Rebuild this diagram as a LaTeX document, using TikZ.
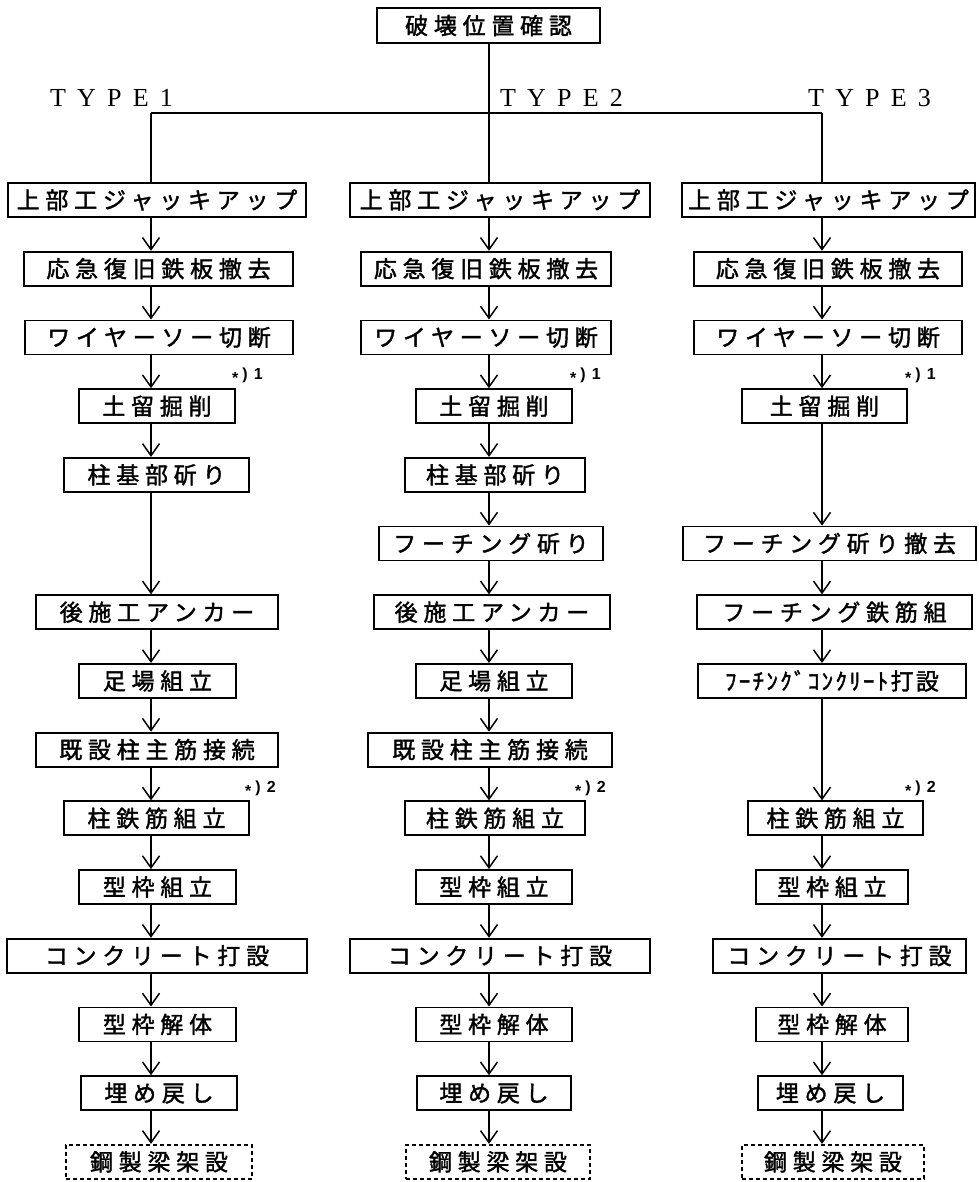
\documentclass[tikz,border=0pt]{standalone}
\usepackage{fontspec}
\usetikzlibrary{arrows.meta,calc}
\newfontfamily\jpf[LetterSpace=25,FakeBold=1.6]{Noto Sans CJK JP}
\newfontfamily\jph[LetterSpace=10,FakeBold=1.6]{Noto Sans CJK JP}
\newfontfamily\typef[LetterSpace=43]{Liberation Serif}
\newfontfamily\notef{Liberation Sans}
\newcommand\notemark[1]{\raisebox{-4pt}{*}\kern4pt)\kern6pt#1}
\begin{document}
\begin{tikzpicture}[x=1pt,y=-1pt,
  box/.style={draw, line width=1.8pt, minimum height=34pt, inner sep=0pt,
    font=\jpf\fontsize{23}{23}\selectfont},
  hbox/.style={box, font=\jph\fontsize{23}{23}\selectfont},
  dbox/.style={box, dash pattern=on 4pt off 3pt},
  flow/.style={line width=1.5pt, -{Straight Barb[length=12pt,width=17pt,line width=1.5pt]}},
  link/.style={line width=1.5pt},
  typelbl/.style={font=\typef\fontsize{26}{26}\selectfont, anchor=base west, inner sep=0pt},
  note/.style={font=\notef\bfseries\fontsize{16}{16}\selectfont, anchor=south west, inner sep=0pt}]
\useasboundingbox (0,0) rectangle (978,1182);

% column axes
\coordinate (c1) at (151,0);
\coordinate (c2) at (489,0);
\coordinate (c3) at (822,0);
\coordinate (h1) at (151,113);
\coordinate (h3) at (822,113);

% top
\node[box, minimum width=223pt, minimum height=35pt] (top) at (488.5,25.5) {破壊位置確認};

% type labels
\node[typelbl] (t1) at (50,107) {TYPE1};
\node[typelbl] (t2) at (500,107) {TYPE2};
\node[typelbl] (t3) at (808,107) {TYPE3};

% column 1
\node[box, minimum width=298pt] (a0) at (157,200) {上部工ジャッキアップ};
\node[box, minimum width=269pt] (a1) at (158.5,268.7) {応急復旧鉄板撤去};
\node[box, minimum width=268pt] (a2) at (159,337.4) {ワイヤーソー切断};
\node[box, minimum width=156pt] (a3) at (157,406.1) {土留掘削};
\node[box, minimum width=185pt] (a4) at (156.5,474.8) {柱基部斫り};
\node[box, minimum width=242pt] (a6) at (157,612.2) {後施工アンカー};
\node[box, minimum width=157pt] (a7) at (157.5,680.9) {足場組立};
\node[box, minimum width=242pt] (a8) at (157,749.6) {既設柱主筋接続};
\node[box, minimum width=185pt] (a9) at (156.5,818.3) {柱鉄筋組立};
\node[box, minimum width=157pt] (a10) at (157.5,887) {型枠組立};
\node[box, minimum width=300pt] (a11) at (157,955.7) {コンクリート打設};
\node[box, minimum width=157pt] (a12) at (157.5,1024.4) {型枠解体};
\node[box, minimum width=156pt] (a13) at (159,1093.1) {埋め戻し};
\node[dbox, minimum width=186pt] (a14) at (159,1161.8) {鋼製梁架設};

% column 2
\node[box, minimum width=300pt] (b0) at (500,200) {上部工ジャッキアップ};
\node[box, minimum width=250pt] (b1) at (486,268.7) {応急復旧鉄板撤去};
\node[box, minimum width=250pt] (b2) at (486,337.4) {ワイヤーソー切断};
\node[box, minimum width=156pt] (b3) at (494,406.1) {土留掘削};
\node[box, minimum width=180pt] (b4) at (495,474.8) {柱基部斫り};
\node[box, minimum width=224pt] (b5) at (491,543.5) {フーチング斫り};
\node[box, minimum width=236pt] (b6) at (492,612.2) {後施工アンカー};
\node[box, minimum width=156pt] (b7) at (494,680.9) {足場組立};
\node[box, minimum width=244pt] (b8) at (490,749.6) {既設柱主筋接続};
\node[box, minimum width=180pt] (b9) at (495,818.3) {柱鉄筋組立};
\node[box, minimum width=156pt] (b10) at (494,887) {型枠組立};
\node[box, minimum width=300pt] (b11) at (500,955.7) {コンクリート打設};
\node[box, minimum width=156pt] (b12) at (494,1024.4) {型枠解体};
\node[box, minimum width=154pt] (b13) at (494,1093.1) {埋め戻し};
\node[dbox, minimum width=184pt] (b14) at (498,1161.8) {鋼製梁架設};

% column 3
\node[box, minimum width=293pt] (d0) at (828.5,200) {上部工ジャッキアップ};
\node[box, minimum width=268pt] (d1) at (828,268.7) {応急復旧鉄板撤去};
\node[box, minimum width=268pt] (d2) at (828,337.4) {ワイヤーソー切断};
\node[box, minimum width=165pt] (d3) at (824.5,406.1) {土留掘削};
\node[box, minimum width=293pt] (d5) at (829.5,543.5) {フーチング斫り撤去};
\node[box, minimum width=275pt] (d6) at (834.5,612.2) {フーチング鉄筋組};
\node[hbox, minimum width=268pt] (d7) at (832,680.9) {ﾌｰﾁﾝｸﾞｺﾝｸﾘｰﾄ打設};
\node[box, minimum width=175pt] (d9) at (835.5,818.3) {柱鉄筋組立};
\node[box, minimum width=152pt] (d10) at (832,887) {型枠組立};
\node[box, minimum width=253pt] (d11) at (839.5,955.7) {コンクリート打設};
\node[box, minimum width=152pt] (d12) at (832,1024.4) {型枠解体};
\node[box, minimum width=145pt] (d13) at (830.5,1093.1) {埋め戻し};
\node[dbox, minimum width=182pt] (d14) at (833,1161.8) {鋼製梁架設};

% notes
\node[note] (n11) at (232,384) {\notemark{1}};
\node[note] (n12) at (570,384) {\notemark{1}};
\node[note] (n13) at (905,384) {\notemark{1}};
\node[note] (n21) at (245,797) {\notemark{2}};
\node[note] (n22) at (575,797) {\notemark{2}};
\node[note] (n23) at (905,797) {\notemark{2}};

% top branching
\draw[link] (top.south -| c2) -- (b0.north -| c2);
\draw[link] (h1) -- (h3);
\draw[link] (h1) -- (a0.north -| h1);
\draw[link] (h3) -- (d0.north -| h3);

% column 1 arrows
\foreach \p/\q in {a0/a1,a1/a2,a2/a3,a3/a4,a4/a6,a6/a7,a7/a8,a8/a9,a9/a10,a10/a11,a11/a12,a12/a13,a13/a14}
  \draw[flow] (\p.south -| c1) -- (\q.north -| c1);
% column 2 arrows
\foreach \p/\q in {b0/b1,b1/b2,b2/b3,b3/b4,b4/b5,b5/b6,b6/b7,b7/b8,b8/b9,b9/b10,b10/b11,b11/b12,b12/b13,b13/b14}
  \draw[flow] (\p.south -| c2) -- (\q.north -| c2);
% column 3 arrows
\foreach \p/\q in {d0/d1,d1/d2,d2/d3,d3/d5,d5/d6,d6/d7,d7/d9,d9/d10,d10/d11,d11/d12,d12/d13,d13/d14}
  \draw[flow] (\p.south -| c3) -- (\q.north -| c3);
\end{tikzpicture}
\end{document}
